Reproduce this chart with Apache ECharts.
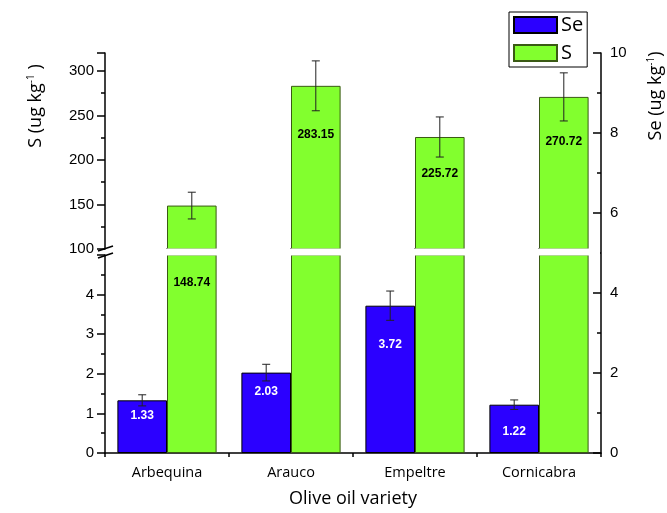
<!DOCTYPE html>
<html>
<head>
<meta charset="utf-8">
<script src="https://cdn.jsdelivr.net/npm/echarts@6/dist/echarts.min.js"></script>
<style>
  html, body { margin: 0; padding: 0; background: #fff; }
  #main { width: 667px; height: 513px; }
</style>
</head>
<body>
<div id="main"></div>
<script>
// data
const categories = ["Arbequina", "Arauco", "Empeltre", "Cornicabra"];
const seValues = [1.33, 2.03, 3.72, 1.22];
const seErrors = [0.14, 0.21, 0.37, 0.12];
const sValues = [148.74, 283.15, 225.72, 270.72];
const sErrors = [15, 28, 22.5, 27];

// label distance below bar top (px), styling only
const seLabelDist = [9, 13, 33, 21];
const sLabelDist = [71, 43, 31, 39];

const BLUE = "#2b00ff";
const GREEN = "#82ff2e";
const TICK_FONT = "Liberation Sans";
const TXT_FONT = "Open Sans";

let myChart = echarts.init(document.getElementById("main"));

// error bar renderer, side = -1 for left bar, +1 for right bar
function errorBars(side) {
  return function (params, api) {
    const i = api.value(0);
    const band = api.size([1, 0])[0];
    const top = api.coord([i, api.value(2)]);
    const bot = api.coord([i, api.value(1)]);
    const x = top[0] + side * band * 0.2;
    const cap = 4;
    const st = { stroke: "#222", lineWidth: 1 };
    return {
      type: "group",
      children: [
        { type: "line", shape: { x1: x, y1: top[1], x2: x, y2: bot[1] }, style: st },
        { type: "line", shape: { x1: x - cap, y1: top[1], x2: x + cap, y2: top[1] }, style: st },
        { type: "line", shape: { x1: x - cap, y1: bot[1], x2: x + cap, y2: bot[1] }, style: st },
      ],
    };
  };
}

const axisLine = { show: true, lineStyle: { color: "#000", width: 1.5 } };
const tickLabel = { color: "#000", fontFamily: TICK_FONT, fontSize: 15 };

myChart.setOption({
  animation: false,
  textStyle: { fontFamily: TXT_FONT },
  legend: {
    data: ["Se", "S"],
    orient: "vertical",
    left: 509,
    top: 12,
    padding: [3, 4, 4, 4],
    itemWidth: 43,
    itemHeight: 16,
    itemGap: 8,
    borderColor: "#000",
    borderWidth: 1,
    icon: "rect",
    textStyle: { fontSize: 20, fontFamily: TXT_FONT, color: "#000", lineHeight: 16, padding: [0, 0, 0, -1] },
  },
  grid: [
    { left: 105, right: 66, top: 53, height: 196 },
    { left: 105, right: 66, top: 255, height: 198 },
    { left: 105, right: 66, top: 53, height: 400 },
  ],
  xAxis: [
    { gridIndex: 0, type: "category", data: categories, show: false },
    {
      gridIndex: 1,
      type: "category",
      data: categories,
      axisLine: axisLine,
      axisTick: { show: true, length: 4, lineStyle: { color: "#000", width: 1.5 } },
      axisLabel: { color: "#000", fontFamily: TXT_FONT, fontSize: 14.5, margin: 12 },
      name: "Olive oil variety",
      nameLocation: "middle",
      nameGap: 37,
      nameTextStyle: { color: "#000", fontFamily: TXT_FONT, fontSize: 18 },
    },
    {
      gridIndex: 1,
      type: "category",
      data: categories,
      axisLine: { show: false },
      axisTick: { show: true, alignWithLabel: true, length: 7, lineStyle: { color: "#000", width: 1.5 } },
      axisLabel: { show: false },
    },
    { gridIndex: 2, type: "category", data: categories, show: false },
  ],
  yAxis: [
    {
      gridIndex: 0,
      type: "value",
      min: 100,
      max: 320,
      interval: 50,
      axisLine: axisLine,
      axisTick: { show: true, length: 8, lineStyle: { color: "#000", width: 1.5 } },
      minorTick: { show: true, splitNumber: 2, length: 4, lineStyle: { color: "#000", width: 1.5 } },
      axisLabel: Object.assign({ margin: 11, showMaxLabel: false }, tickLabel),
      splitLine: { show: false },
    },
    {
      gridIndex: 1,
      type: "value",
      min: 0,
      max: 5,
      interval: 1,
      axisLine: axisLine,
      axisTick: { show: true, length: 8, lineStyle: { color: "#000", width: 1.5 } },
      minorTick: { show: true, splitNumber: 2, length: 4, lineStyle: { color: "#000", width: 1.5 } },
      axisLabel: Object.assign({ margin: 11, showMaxLabel: false }, tickLabel),
      splitLine: { show: false },
    },
    {
      gridIndex: 2,
      type: "value",
      position: "right",
      min: 0,
      max: 10,
      interval: 2,
      axisLine: axisLine,
      axisTick: { show: true, inside: true, length: 8, lineStyle: { color: "#000", width: 1.5 } },
      minorTick: { show: true, splitNumber: 2, length: 4, lineStyle: { color: "#000", width: 1.5 } },
      axisLabel: Object.assign({ margin: 9 }, tickLabel),
      splitLine: { show: false },
    },
  ],
  series: [
    {
      name: "Se",
      type: "bar",
      xAxisIndex: 1,
      yAxisIndex: 1,
      barGap: "0%",
      barCategoryGap: "20%",
      itemStyle: { color: BLUE, borderColor: "#000", borderWidth: 1 },
      data: seValues.map((v, i) => ({ value: v, label: { distance: seLabelDist[i] } })),
      label: {
        show: true,
        position: "insideTop",
        color: "#fff",
        fontWeight: "bold",
        fontFamily: TICK_FONT,
        fontSize: 12,
      },
    },
    {
      name: "S",
      type: "bar",
      xAxisIndex: 1,
      yAxisIndex: 1,
      barGap: "0%",
      barCategoryGap: "20%",
      itemStyle: { color: GREEN, borderColor: "#3a5a14", borderWidth: 1 },
      data: sValues,
    },
    {
      name: "Se",
      type: "bar",
      xAxisIndex: 0,
      yAxisIndex: 0,
      barGap: "0%",
      barCategoryGap: "20%",
      itemStyle: { color: BLUE, borderColor: "#000", borderWidth: 1 },
      data: categories.map(() => null),
    },
    {
      name: "S",
      type: "bar",
      xAxisIndex: 0,
      yAxisIndex: 0,
      barGap: "0%",
      barCategoryGap: "20%",
      itemStyle: { color: GREEN, borderColor: "#3a5a14", borderWidth: 1 },
      data: sValues.map((v, i) => ({ value: v, label: { distance: sLabelDist[i] } })),
      label: {
        show: true,
        position: "insideTop",
        color: "#000",
        fontWeight: "bold",
        fontFamily: TICK_FONT,
        fontSize: 12,
        formatter: (p) => p.value.toFixed(2),
      },
    },
    {
      name: "SeErr",
      type: "custom",
      xAxisIndex: 1,
      yAxisIndex: 1,
      z: 5,
      renderItem: errorBars(-1),
      encode: { x: 0, y: [1, 2] },
      data: seValues.map((v, i) => [i, v - seErrors[i], v + seErrors[i]]),
    },
    {
      name: "SErr",
      type: "custom",
      xAxisIndex: 0,
      yAxisIndex: 0,
      z: 5,
      renderItem: errorBars(1),
      encode: { x: 0, y: [1, 2] },
      data: sValues.map((v, i) => [i, v - sErrors[i], v + sErrors[i]]),
    },
  ],
  graphic: [
    // white gap across the broken axis
    { type: "rect", z: 100, shape: { x: 106, y: 248.5, width: 494, height: 7 }, style: { fill: "#fff" } },
    // break marks on left axis
    { type: "line", z: 101, shape: { x1: 98, y1: 251, x2: 113, y2: 246 }, style: { stroke: "#000", lineWidth: 1.5 } },
    { type: "line", z: 101, shape: { x1: 98, y1: 258, x2: 113, y2: 253 }, style: { stroke: "#000", lineWidth: 1.5 } },
    {
      type: "text",
      z: 101,
      x: 36,
      y: 106,
      rotation: Math.PI / 2,
      style: {
        text: "S (ug kg{sup|-1} )",
        fontFamily: TXT_FONT,
        fontSize: 18,
        fill: "#000",
        align: "center",
        verticalAlign: "middle",
        rich: { sup: { fontSize: 10, fontFamily: TXT_FONT, padding: [0, 0, 10, 0] } },
      },
    },
    {
      type: "text",
      z: 101,
      x: 656,
      y: 96,
      rotation: Math.PI / 2,
      style: {
        text: "Se (ug kg{sup|-1})",
        fontFamily: TXT_FONT,
        fontSize: 18,
        fill: "#000",
        align: "center",
        verticalAlign: "middle",
        rich: { sup: { fontSize: 10, fontFamily: TXT_FONT, padding: [0, 0, 10, 0] } },
      },
    },
  ],
});
</script>
</body>
</html>
